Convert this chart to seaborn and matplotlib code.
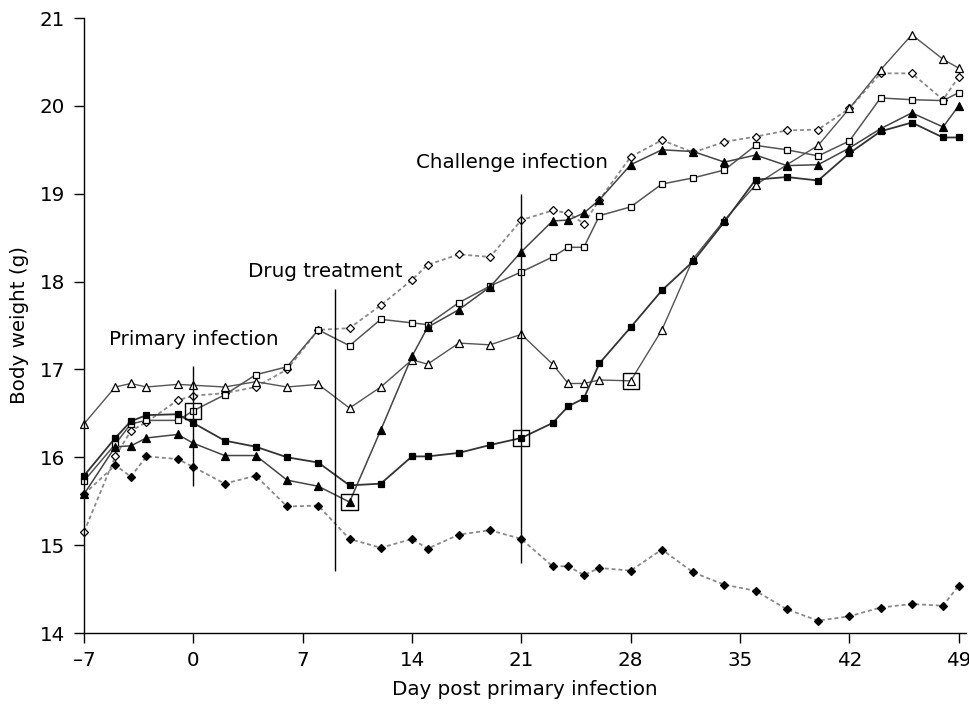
import matplotlib
matplotlib.use("Agg")
import matplotlib.pyplot as plt
import seaborn as sns
import pandas as pd

# ---------------- data ----------------
days = [-7, -5, -4, -3, -1, 0, 2, 4, 6, 8, 10, 12, 14, 15, 17, 19, 21, 23, 24, 25,
        26, 28, 30, 32, 34, 36, 38, 40, 42, 44, 46, 48, 49]

open_triangle = [16.38, 16.80, 16.84, 16.80, 16.83, 16.82, 16.80, 16.86, 16.80, 16.83,
                 16.56, 16.80, 17.11, 17.06, 17.30, 17.28, 17.40, 17.06, 16.84, 16.84,
                 16.88, 16.87, 17.45, 18.26, 18.70, 19.10, 19.33, 19.55, 19.97, 20.41,
                 20.81, 20.53, 20.43]

filled_triangle = [15.58, 16.12, 16.13, 16.22, 16.26, 16.16, 16.02, 16.02, 15.74, 15.67,
                   15.49, 16.31, 17.15, 17.48, 17.68, 17.94, 18.34, 18.69, 18.70, 18.78,
                   18.93, 19.33, 19.50, 19.48, 19.36, 19.44, 19.32, 19.33, 19.52, 19.74,
                   19.92, 19.76, 20.00]

open_square = [15.73, 16.15, 16.38, 16.42, 16.42, 16.53, 16.71, 16.94, 17.03, 17.45,
               17.27, 17.57, 17.53, 17.51, 17.76, 17.95, 18.11, 18.28, 18.39, 18.39,
               18.75, 18.85, 19.11, 19.18, 19.27, 19.55, 19.50, 19.43, 19.60, 20.09,
               20.07, 20.06, 20.15]

filled_square = [15.79, 16.22, 16.41, 16.48, 16.49, 16.39, 16.19, 16.12, 16.00, 15.94,
                 15.68, 15.70, 16.01, 16.01, 16.05, 16.14, 16.22, 16.39, 16.58, 16.67,
                 17.07, 17.48, 17.90, 18.23, 18.68, 19.16, 19.19, 19.15, 19.46, 19.71,
                 19.81, 19.64, 19.64]

open_diamond = [15.15, 16.01, 16.30, 16.40, 16.65, 16.70, 16.73, 16.80, 17.00, 17.45,
                17.47, 17.73, 18.02, 18.19, 18.31, 18.28, 18.70, 18.81, 18.78, 18.66,
                18.93, 19.42, 19.61, 19.47, 19.59, 19.65, 19.72, 19.73, 19.97, 20.37,
                20.37, 20.07, 20.33]

filled_diamond = [15.58, 15.91, 15.78, 16.01, 15.98, 15.89, 15.70, 15.79, 15.44, 15.45,
                  15.07, 14.97, 15.07, 14.96, 15.12, 15.17, 15.07, 14.76, 14.76, 14.66,
                  14.74, 14.71, 14.95, 14.69, 14.55, 14.48, 14.27, 14.14, 14.19, 14.29,
                  14.33, 14.31, 14.54]

# highlighted (boxed) points: (day, series name)
box_days = [0, 10, 21, 28]
box_series = ["open_square", "filled_triangle", "filled_square", "open_triangle"]

# event annotations
event_labels = ["Primary infection", "Drug treatment", "Challenge infection"]
event_days = [0, 9.1, 21]
event_low = [15.67, 14.71, 14.80]
event_high = [17.04, 17.91, 19.00]
label_x = [-5.4, 3.5, 14.25]
label_y = [17.34, 18.11, 19.36]

x_ticks = [-7, 0, 7, 14, 21, 28, 35, 42, 49]
x_tick_labels = ["\u20137", "0", "7", "14", "21", "28", "35", "42", "49"]
y_ticks = [14, 15, 16, 17, 18, 19, 20, 21]

# ---------------- style ----------------
sns.set_style("ticks")
plt.rcParams["font.family"] = ["DejaVu Sans"]
FS = 14.3

series = {
    "open_diamond": open_diamond,
    "filled_diamond": filled_diamond,
    "open_square": open_square,
    "open_triangle": open_triangle,
    "filled_triangle": filled_triangle,
    "filled_square": filled_square,
}
styles = {
    "open_diamond": dict(marker="D", markerfacecolor="white", markersize=4.0,
                         linestyle=(0, (2.2, 1.6)), color="#8a8a8a", linewidth=1.3),
    "filled_diamond": dict(marker="D", markerfacecolor="black", markersize=4.0,
                           linestyle=(0, (2.2, 1.6)), color="#8a8a8a", linewidth=1.3),
    "open_square": dict(marker="s", markerfacecolor="white", markersize=4.6,
                        linestyle="-", color="#555555", linewidth=1.1),
    "open_triangle": dict(marker="^", markerfacecolor="white", markersize=5.2,
                          linestyle="-", color="#555555", linewidth=1.0),
    "filled_triangle": dict(marker="^", markerfacecolor="black", markersize=5.2,
                            linestyle="-", color="#444444", linewidth=1.1),
    "filled_square": dict(marker="s", markerfacecolor="black", markersize=4.6,
                          linestyle="-", color="#333333", linewidth=1.3),
}

fig = plt.figure(figsize=(9.7, 7.06), dpi=100)
ax = fig.add_axes([84 / 970, 1 - 633 / 706, (966.5 - 84) / 970, (633 - 18) / 706])

for name, vals in series.items():
    st = styles[name]
    df = pd.DataFrame({"day": days, "weight": vals})
    sns.lineplot(data=df, x="day", y="weight", ax=ax, errorbar=None,
                 color=st["color"], linewidth=st["linewidth"],
                 linestyle=st["linestyle"], marker=st["marker"],
                 markersize=st["markersize"],
                 markerfacecolor=st["markerfacecolor"],
                 markeredgecolor="black", markeredgewidth=0.9)

for ln in ax.get_lines():
    ln.set_clip_on(False)

# boxed points
bx = []
by = []
for d, s in zip(box_days, box_series):
    bx.append(d)
    by.append(series[s][days.index(d)])
ax.scatter(bx, by, marker="s", s=135, facecolors="none", edgecolors="black",
           linewidths=1.0, zorder=5, clip_on=False)

# event lines and labels
ax.vlines(event_days, event_low, event_high, colors="black", linewidth=1.0, zorder=4)
for t, x, y in zip(event_labels, label_x, label_y):
    ax.text(x, y, t, fontsize=FS, ha="left", va="center", color="black")

ax.set_xlim(-7, 49.5)
ax.set_ylim(14, 21)
ax.set_xticks(x_ticks)
ax.set_xticklabels(x_tick_labels)
ax.set_yticks(y_ticks)
ax.tick_params(axis="both", direction="out", length=7, width=1.0,
               labelsize=FS, colors="black", labelcolor="black")
ax.tick_params(axis="x", pad=6)
ax.tick_params(axis="y", pad=6.5)
for sp in ["top", "right"]:
    ax.spines[sp].set_visible(False)
for sp in ["left", "bottom"]:
    ax.spines[sp].set_linewidth(1.0)
    ax.spines[sp].set_color("black")

ax.set_xlabel("Day post primary infection", fontsize=FS, color="black")
ax.set_ylabel("Body weight (g)", fontsize=FS, color="black")
ax.xaxis.set_label_coords(0.5, -0.076)
ax.yaxis.set_label_coords(-0.062, 0.5)

fig.savefig("out.png", dpi=100)
